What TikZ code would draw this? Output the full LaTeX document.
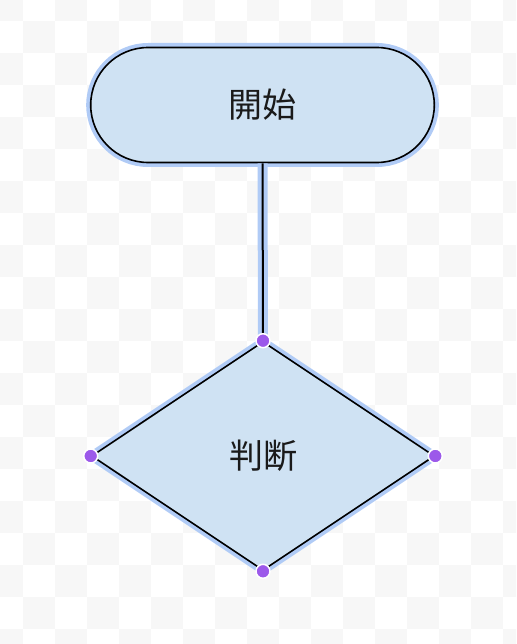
\documentclass[tikz,border=0pt]{standalone}
\usepackage{fontspec}
\setmainfont{Noto Sans CJK JP}
\usetikzlibrary{shapes.geometric,shapes.misc}
\definecolor{chk}{HTML}{F7F7F7}
\definecolor{shapefill}{HTML}{CFE2F3}
\definecolor{glow}{HTML}{B0CBF6}
\definecolor{dotc}{HTML}{9C59EA}
\definecolor{txt}{HTML}{1A1A1A}
\tikzset{
  flowshape/.style={fill=shapefill, draw=black, line width=1.6pt, inner sep=0pt,
    text=txt, font=\fontsize{34}{40}\selectfont,
    preaction={draw=glow, line width=9pt}},
  startbox/.style={flowshape, rounded rectangle, minimum width=343.6pt, minimum height=115pt},
  decbox/.style={flowshape, diamond, minimum width=343pt, minimum height=229pt},
  link/.style={draw=black, line width=2pt, preaction={draw=glow, line width=10pt}},
  vdot/.style={circle, fill=dotc, draw=white, line width=1.5pt, minimum size=14pt, inner sep=0pt}
}
\begin{document}
\begin{tikzpicture}[x=1pt,y=-1pt]
\useasboundingbox (0,0) rectangle (516,644);
\fill[white] (0,0) rectangle (516,644);
\begin{scope}
\clip (0,0) rectangle (516,644);
\foreach \i in {-1,...,15}{
  \foreach \j in {-1,...,19}{
    \pgfmathtruncatemacro{\chkpar}{mod(\i+\j+40,2)}
    \ifnum\chkpar=0
      \fill[chk] ({22.5+32*\i},{21+32*\j}) rectangle ++(32,32);
    \fi
  }
}
\end{scope}
\node[startbox] (start) at (262.5,105) {開始};
\node[decbox] (dec) at (263,456) {判断};
\draw[link] (start.south) -- (dec.north);
\node[vdot] (dn) at (dec.north) {};
\node[vdot] (dw) at (dec.west) {};
\node[vdot] (de) at (dec.east) {};
\node[vdot] (ds) at (dec.south) {};
\end{tikzpicture}
\end{document}
